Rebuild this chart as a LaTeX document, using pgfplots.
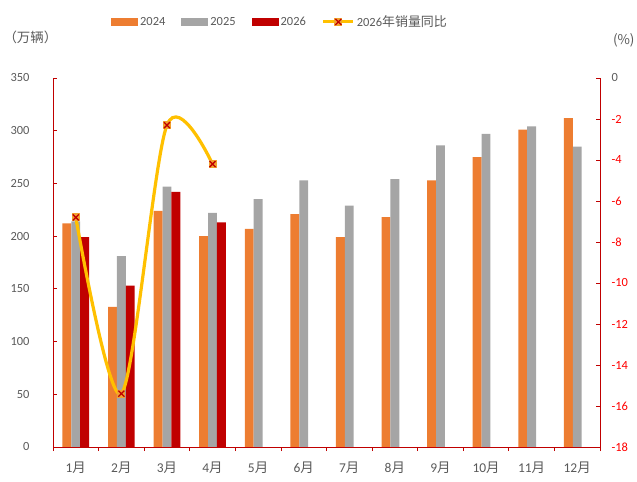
\documentclass[border=0pt]{standalone}
\usepackage{fontspec}
\setmainfont{Carlito}
\newfontfamily\cjk{Noto Sans CJK SC}
\usepackage{pgfplots}
\pgfplotsset{compat=1.18}
\definecolor{c24}{HTML}{ED7D31}
\definecolor{c25}{HTML}{A5A5A5}
\definecolor{c26}{HTML}{C00000}
\definecolor{cyoy}{HTML}{FFC000}
\definecolor{cmk}{HTML}{F2A22E}
\definecolor{axred}{HTML}{C00000}
\definecolor{txt}{HTML}{595959}
\definecolor{rtxt}{HTML}{FF0000}

\pgfdeclareplotmark{sqx}{%
  \pgfsetfillcolor{cmk}%
  \pgfpathrectangle{\pgfpoint{-\pgfplotmarksize}{-\pgfplotmarksize}}{\pgfpoint{2\pgfplotmarksize}{2\pgfplotmarksize}}%
  \pgfusepathqfill
  \pgfsetstrokecolor{c26}%
  \pgfsetlinewidth{1.3bp}%
  \pgfpathmoveto{\pgfpoint{-0.75\pgfplotmarksize}{-0.75\pgfplotmarksize}}%
  \pgfpathlineto{\pgfpoint{0.75\pgfplotmarksize}{0.75\pgfplotmarksize}}%
  \pgfpathmoveto{\pgfpoint{-0.75\pgfplotmarksize}{0.75\pgfplotmarksize}}%
  \pgfpathlineto{\pgfpoint{0.75\pgfplotmarksize}{-0.75\pgfplotmarksize}}%
  \pgfusepathqstroke}

% filled legend box, no outline
\newcommand\legbox[1]{%
  \pgfsetfillcolor{#1}%
  \pgfpathrectangle{\pgfpoint{0bp}{-4bp}}{\pgfpoint{27bp}{8bp}}%
  \pgfusepathqfill}

\begin{document}
\begin{tikzpicture}
\pgfplotsset{
  base/.style={
    scale only axis,
    width=547bp, height=369bp,
    at={(0,0)}, anchor=south west,
    xmin=0.5, xmax=12.5,
    font=\fontsize{12.5}{14}\selectfont,
    /pgf/number format/assume math mode=true,
    tick align=inside,
    major tick length=4bp,
    axis line style={axred, line width=0.8bp},
    every tick/.style={axred, line width=0.8bp},
  }
}
\useasboundingbox (-53bp,-35bp) rectangle (584bp,447bp);
\begin{axis}[
  base,
  axis x line*=bottom,
  axis y line*=left,
  ymin=0, ymax=350,
  ytick={0,50,...,350},
  yticklabel style={txt, xshift=-20bp},
  xtick={0.5,1.5,...,12.5},
  xticklabels={},
  xtick align=outside,
  extra x ticks={1,...,12},
  extra x tick labels={1\cjk{月},2\cjk{月},3\cjk{月},4\cjk{月},5\cjk{月},6\cjk{月},7\cjk{月},8\cjk{月},9\cjk{月},10\cjk{月},11\cjk{月},12\cjk{月}},
  extra x tick style={major tick length=0pt,
    ticklabel style={txt, yshift=-11bp, font=\fontsize{13.5}{15}\selectfont}},
  bar width=0.195,
  ybar,
]
\addplot[fill=c24, draw=none, bar shift=-0.195] coordinates {
  (1,212) (2,133) (3,224) (4,200) (5,207) (6,221)
  (7,199) (8,218) (9,253) (10,275) (11,301) (12,312)};
\addplot[fill=c25, draw=none, bar shift=0] coordinates {
  (1,214) (2,181) (3,247) (4,222) (5,235) (6,253)
  (7,229) (8,254) (9,286) (10,297) (11,304) (12,285)};
\addplot[fill=c26, draw=none, bar shift=0.195] coordinates {
  (1,199) (2,153) (3,242) (4,213)};
\end{axis}
\begin{axis}[
  base,
  axis x line=none,
  axis y line*=right,
  ymin=-18, ymax=0,
  ytick={-18,-16,...,0},
  yticklabel style={rtxt, xshift=8bp},
  yticklabel={\ifdim\tick pt=0pt \textcolor{txt}{0}\else\pgfmathprintnumber{\tick}\fi},
  legend style={draw=none, fill=none, at={(0.415,1.152)}, anchor=center,
    legend columns=-1, font=\fontsize{12.5}{14}\selectfont, text=txt,
    nodes={inner xsep=2bp},
    /tikz/every even column/.append style={column sep=14bp}},
]
\addlegendimage{legend image code/.code={\legbox{c24}}}
\addlegendentry{2024}
\addlegendimage{legend image code/.code={\legbox{c25}}}
\addlegendentry{2025}
\addlegendimage{legend image code/.code={\legbox{c26}}}
\addlegendentry{2026}
\addlegendimage{legend image code/.code={
  \draw[cyoy, line width=3bp] (0bp,0bp) -- (30bp,0bp);
  \draw plot[mark=sqx, mark size=4bp] coordinates {(15bp,0bp)};}}
\addlegendentry{2026\cjk{\fontsize{13}{14}\selectfont 年销量同比}}
\addplot[cyoy, line width=3.2bp, smooth, tension=0.5, mark=sqx, mark size=4bp]
  coordinates {(1,-6.8) (2,-15.4) (3,-2.3) (4,-4.2)};
\end{axis}
\node[anchor=west, txt, font=\cjk\fontsize{13.5}{15}\selectfont] at (-53bp,410bp) {（万辆）};
\node[anchor=east, txt, font=\cjk\fontsize{13.5}{15}\selectfont] at (585bp,407bp) {(\%)};
\end{tikzpicture}
\end{document}
